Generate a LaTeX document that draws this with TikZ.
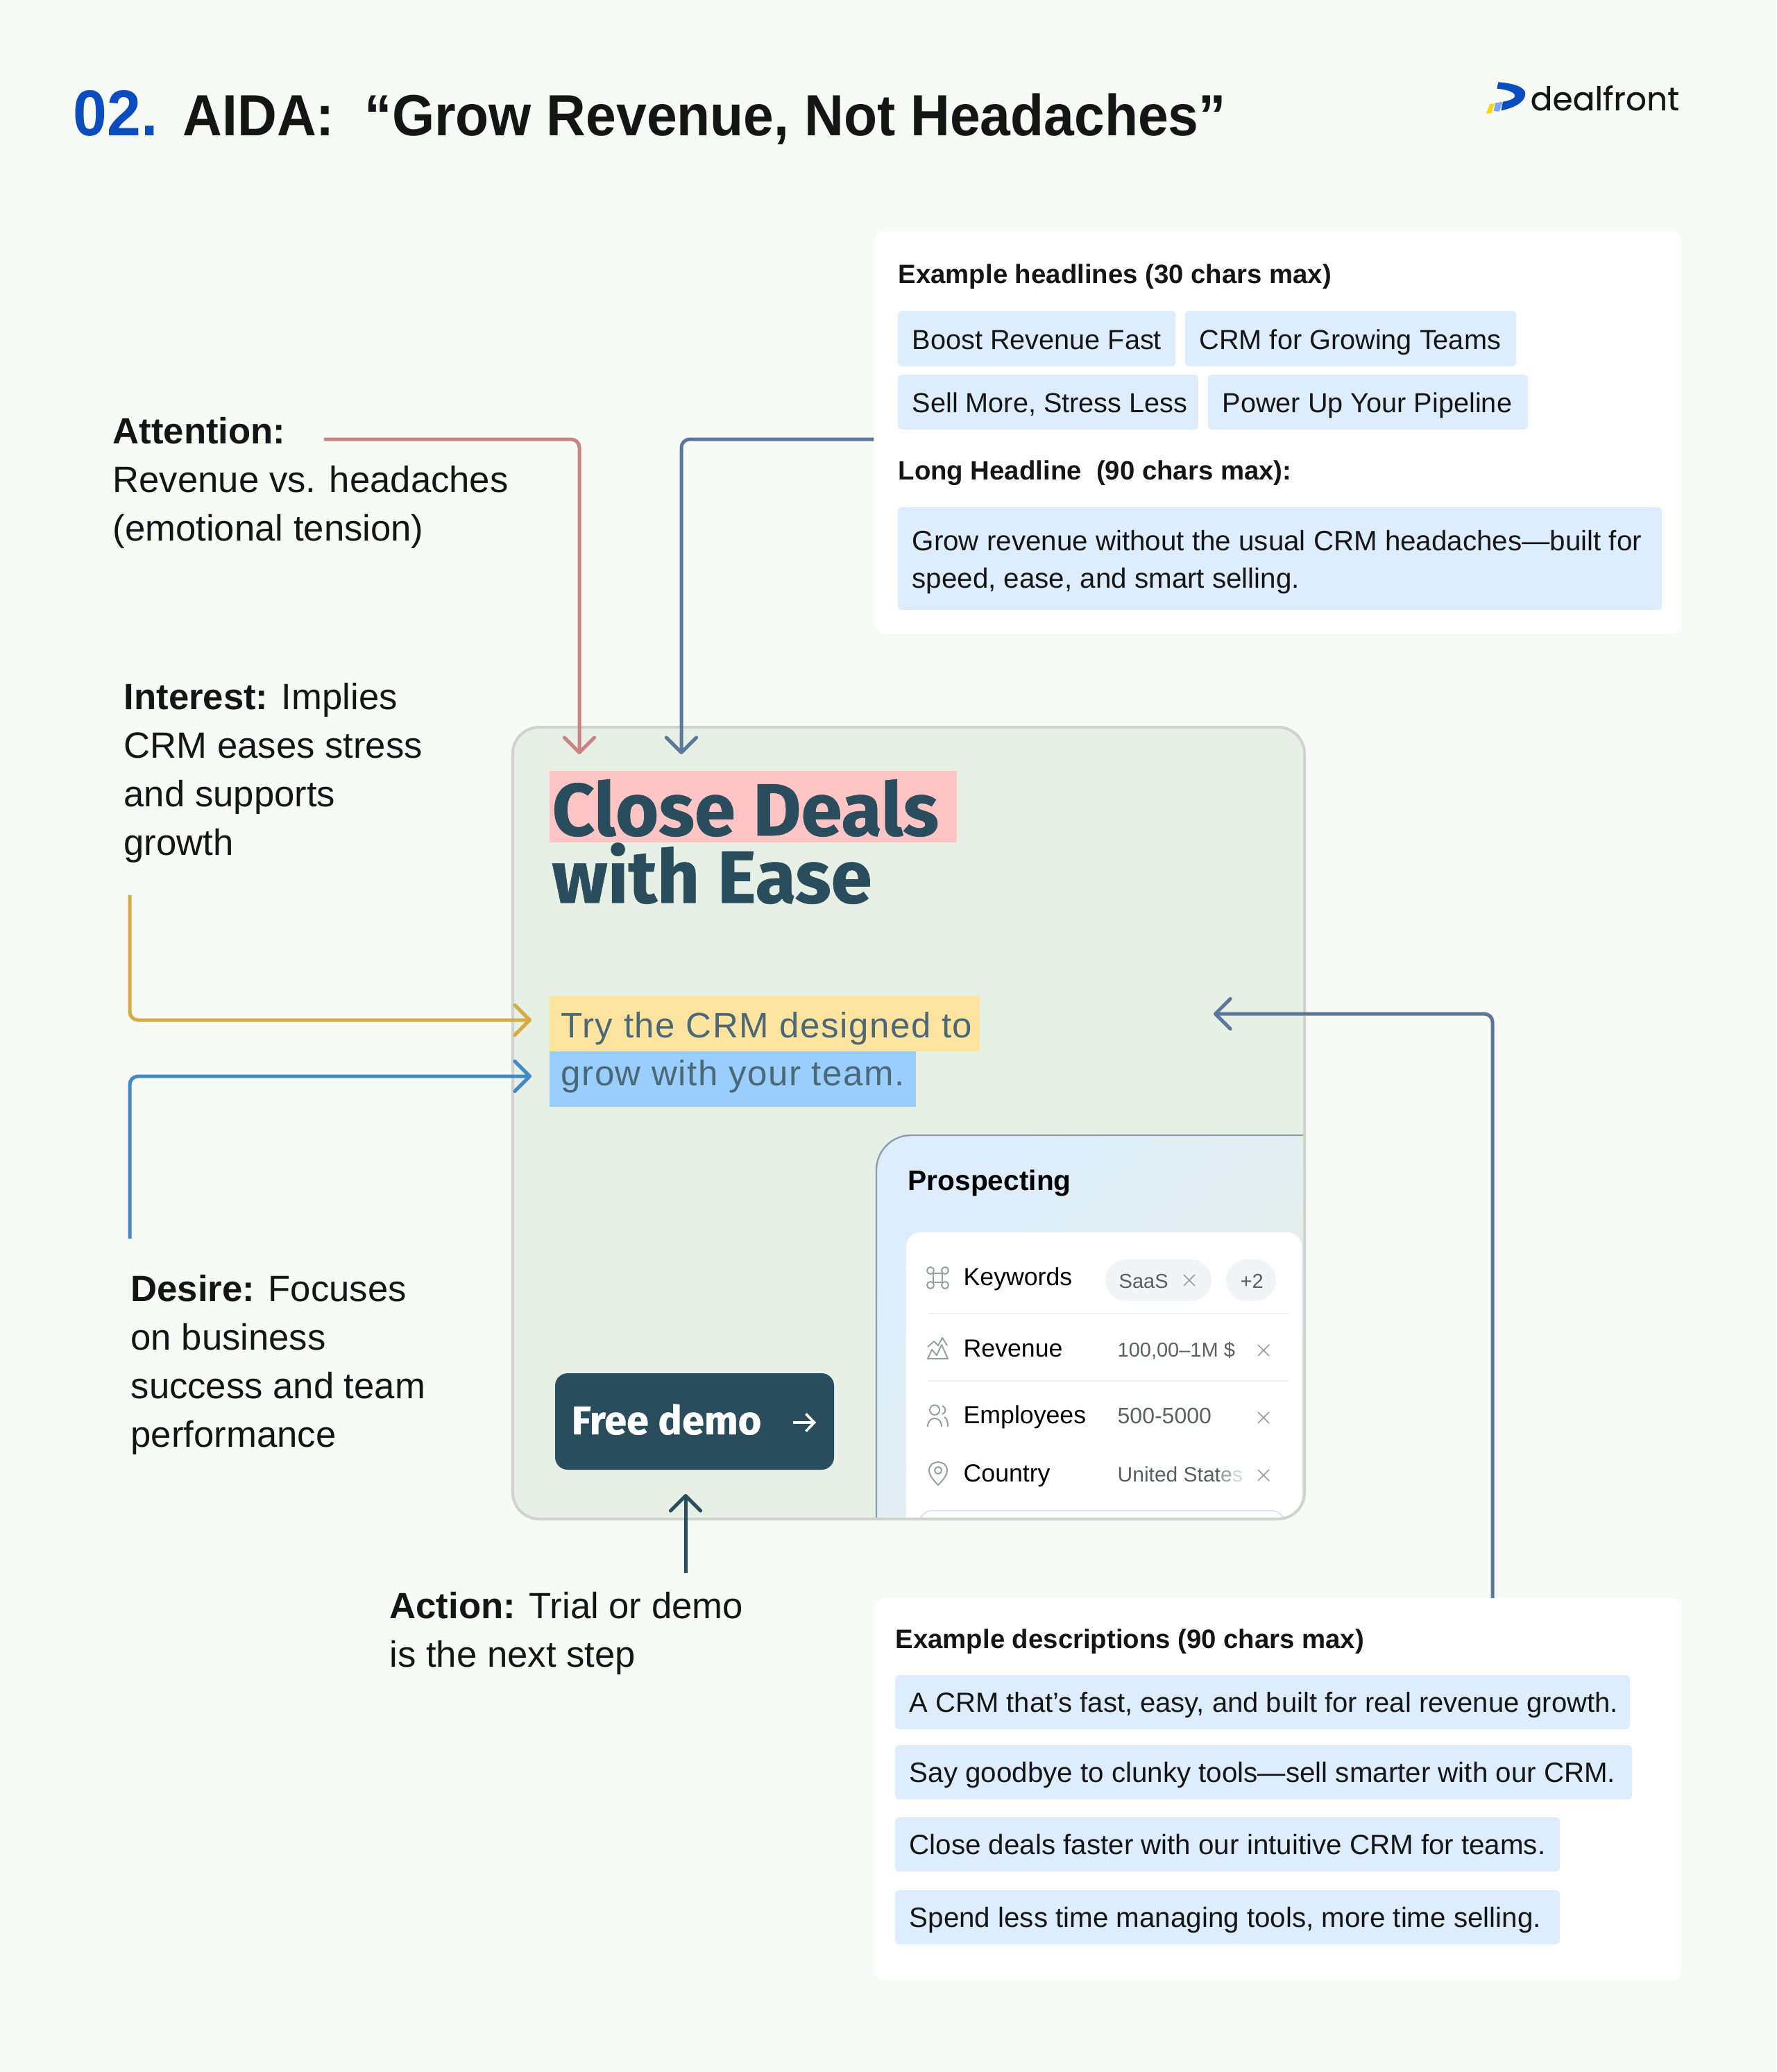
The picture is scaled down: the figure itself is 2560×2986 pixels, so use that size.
\documentclass[tikz,border=0pt]{standalone}
\usepackage{fontspec}
\usetikzlibrary{arrows.meta}
\setmainfont{Liberation Sans}
\newfontfamily\heavyfont[BoldFeatures={FakeBold=0.6}]{Fira Sans}
\newfontfamily\logofont[FakeBold=0.3]{Poppins}
\newfontfamily\subfont[LetterSpace=3]{Liberation Sans}
\newfontfamily\titlefont[BoldFeatures={FakeStretch=0.94}]{Liberation Sans}
\definecolor{pagebg}{HTML}{F8FAF6}
\definecolor{cardbg}{HTML}{E7F0E5}
\definecolor{cardedge}{HTML}{CFD2CF}
\definecolor{chipbg}{HTML}{DEEDFD}
\definecolor{ink}{HTML}{151515}
\definecolor{navy}{HTML}{2A4D5E}
\definecolor{titleblue}{HTML}{0B4DBE}
\definecolor{attnred}{HTML}{C98383}
\definecolor{slate}{HTML}{5B789B}
\definecolor{gold}{HTML}{D6AB45}
\definecolor{descblue}{HTML}{4488C7}
\definecolor{iconc}{HTML}{9A9E9F}
\definecolor{valc}{HTML}{5A5F62}
\definecolor{pinkhl}{HTML}{FFC4C4}
\definecolor{yellowhl}{HTML}{FFE4A0}
\definecolor{bluehl}{HTML}{9ACEFF}
\definecolor{pillbg}{HTML}{F1F5F5}
\tikzset{
  lab/.style={anchor=base west,inner sep=0pt,align=left,text=ink},
  biglab/.style={lab,font=\fontsize{15.8}{21}\selectfont},
  chiptxt/.style={lab,font=\fontsize{11.9}{16.2}\selectfont},
  widetxt/.style={lab,font=\fontsize{12.1}{16.2}\selectfont},
  headtxt/.style={lab,font=\fontsize{11.5}{15}\selectfont\bfseries},
  rowtxt/.style={lab,text=black,font=\fontsize{10.7}{13}\selectfont},
  valtxt/.style={lab,text=valc,font=\fontsize{8.7}{11}\selectfont},
  subtxt/.style={lab,text=navy!85!white,font=\fontsize{15.3}{15}\subfont},
  panel/.style={fill=white,rounded corners=4.5pt,inner sep=0pt},
  link/.style={line width=1.5pt,rounded corners=3.6pt,->},
  xmark/.style={draw=black!25!cardedge,line width=0.5pt},
  icon/.style={draw=iconc,line width=0.6pt},
  >={Straight Barb[length=6.5pt,width=13pt,line width=1.5pt,round]}
}
\begin{document}
\begin{tikzpicture}[x=0.3pt,y=-0.3pt]
\fill[pagebg] (0,0) rectangle (2560,2986);
% title and logo
\node[lab,text=titleblue,font=\fontsize{28}{28}\titlefont\bfseries] (num) at (105,196) {02.};
\node[lab,font=\fontsize{25.1}{28}\titlefont\bfseries] (title) at (263,196) {AIDA:\ \ “Grow Revenue, Not Headaches”};
\fill[titleblue] (2159.3,118.3) .. controls (2180,120) and (2198.3,125) .. (2198.3,135) .. controls (2198.3,148) and (2180,156) .. (2163.3,159.3) -- (2166,146.7) .. controls (2175,145) and (2183.3,142) .. (2183.3,138.3) .. controls (2183,132) and (2170,129) .. (2157.3,127.7) -- cycle;
\fill[bluehl!80!blue] (2155,148.3) -- (2165.7,146.7) -- (2160.7,160.7) -- (2152.7,160) -- cycle;
\fill[yellow!75!orange] (2147.3,150) -- (2154,149) -- (2149.3,163.3) -- (2142,163.3) -- cycle;
\node[lab,font=\fontsize{14.1}{16}\logofont] (logo) at (2205,159) {dealfront};
% upper panel
\node[panel,minimum width=348.9pt,minimum height=174pt] (headpanel) at (1841.5,623) {};
\node[headtxt] (headone) at (1294,408) {Example headlines (30 chars max)};
\foreach \xa/\xb/\ya/\yb/\tb/\lbl [count=\n] in {1294/1694/448/528/503/{Boost Revenue Fast},1708/2185/448/528/503/{CRM for Growing Teams},1294/1727/540/619/594/{Sell More, Stress Less},1741/2202/540/619/594/{Power Up Your Pipeline}}{
  \fill[chipbg,rounded corners=1.8pt] (\xa,\ya) rectangle (\xb,\yb);
  \node[chiptxt] (head\n) at (\xa+20,\tb) {\lbl};
}
\node[headtxt] (headtwo) at (1294,691) {Long Headline\ \ (90 chars max):};
\fill[chipbg,rounded corners=1.8pt] (1294,731) rectangle (2395,879);
\node[widetxt] (longhead) at (1314,847) {Grow revenue without the usual CRM headaches—built for\\speed, ease, and smart selling.};
% lower panel
\node[panel,minimum width=348.9pt,minimum height=165.3pt] (descpanel) at (1841.5,2578.5) {};
\node[headtxt] (descone) at (1290,2375) {Example descriptions (90 chars max)};
\foreach \xb/\ya/\lbl [count=\n] in {2349/2414/{\fontsize{12}{16}\selectfont A CRM that’s fast, easy, and built for real revenue growth.},2352/2515/{Say goodbye to clunky tools—sell smarter with our CRM.},2248/2619/{Close deals faster with our intuitive CRM for teams.},2248/2724/{Spend less time managing tools, more time selling.}}{
  \fill[chipbg,rounded corners=1.8pt] (1290,\ya) rectangle (\xb,\ya+78);
  \node[widetxt] (desc\n) at (1310,\ya+53) {\lbl};
}
% ad card
\fill[cardbg,rounded corners=11.4pt] (739,1048) rectangle (1880,2189);
\fill[pinkhl] (792,1111) rectangle (1379,1214);
\node[lab,text=navy,font=\fontsize{32}{29.1}\heavyfont\bfseries] (close) at (795,1301) {Close Deals\\with Ease};
\fill[yellowhl] (792,1435) rectangle (1412,1515);
\fill[bluehl] (792,1515) rectangle (1320,1595);
\node[subtxt] (subone) at (808,1495) {Try the CRM designed to};
\node[subtxt] (subtwo) at (808,1564) {grow with your team.};
\fill[navy,rounded corners=5.4pt] (800,1979) rectangle (1202,2118);
\node[lab,text=white,font=\fontsize{17.3}{18}\heavyfont\bfseries] (demo) at (823,2067) {Free demo};
\coordinate (demoa) at (1143,2050);
\coordinate (demob) at (1176,2050);
\draw[white,line width=1.1pt,-{Straight Barb[length=3.6pt,width=7.5pt,line width=1.1pt]}] (demoa) -- (demob);
% product panel
\begin{scope}
\clip[rounded corners=11.4pt] (739,1048) rectangle (1880,2189);
\shade[left color=chipbg,right color=cardbg,shading angle=45,rounded corners=15pt] (1263,1636) rectangle (1900,2220);
\draw[draw=slate!60!cardedge,line width=0.7pt,rounded corners=15pt] (1263,2200) -- (1263,1636) -- (1890,1636);
\fill[white,rounded corners=6pt] (1306,1776) rectangle (1876,2260);
\draw[draw=chipbg!70!cardedge,line width=0.6pt,rounded corners=6pt] (1324,2240) -- (1324,2177) -- (1852,2177) -- (1852,2240);
\end{scope}
\node[lab,text=black,font=\fontsize{12.2}{14}\selectfont\bfseries] (prosp) at (1308,1715) {Prospecting};
\node[rowtxt] (keyw) at (1388,1852) {Keywords};
\node[rowtxt] (reve) at (1388,1955) {Revenue};
\node[rowtxt] (empl) at (1388,2051) {Employees};
\node[rowtxt] (ctry) at (1388,2135) {Country};
\fill[pillbg,rounded corners=9pt] (1593,1815) rectangle (1746,1875);
\fill[pillbg,rounded corners=9pt] (1767,1815) rectangle (1839,1875);
\node[valtxt] (saas) at (1612,1856) {SaaS};
\node[valtxt] (more) at (1787,1856) {+2};
\node[valtxt] (reval) at (1610,1955) {100,00–1M \$};
\node[valtxt,font=\fontsize{9.6}{11}\selectfont] (emval) at (1610,2051) {500-5000};
\node[valtxt,font=\fontsize{9}{11}\selectfont] (coval) at (1610,2135) {United Stat\textcolor{valc!60!white}{e}\textcolor{valc!25!white}{s}};
\foreach \yy in {1893,1990}{\draw[black!6,line width=0.6pt] (1338,\yy) -- (1857,\yy);}
\foreach \cx/\cy in {1714/1845,1821/1946,1821/2043,1821/2126}{
  \draw[xmark] (\cx-8,\cy-8) -- (\cx+8,\cy+8) (\cx-8,\cy+8) -- (\cx+8,\cy-8);
}
% row icons
\draw[icon] (1345,1835) rectangle (1358,1848);
\foreach \cx/\cy in {1341/1831,1362/1831,1341/1852,1362/1852}{\draw[icon] (\cx,\cy) circle[radius=5];}
\draw[icon,line join=round] (1337,1958) -- (1343,1945) -- (1350,1953) -- (1357,1938) -- (1366,1958) -- cycle (1337,1941) -- (1346,1933) -- (1352,1939) -- (1358,1928) -- (1365,1939);
\draw[icon] (1347,2032) circle[radius=7];
\draw[icon] (1337,2056) .. controls (1337,2040) and (1357,2040) .. (1357,2056);
\draw[icon] (1358,2026) .. controls (1364,2028) and (1364,2036) .. (1358,2038) (1361,2042) .. controls (1365,2044) and (1366,2050) .. (1366,2056);
\draw[icon] (1352,2140) .. controls (1342,2130) and (1339,2124) .. (1339,2119) .. controls (1339,2103) and (1365,2103) .. (1365,2119) .. controls (1365,2124) and (1362,2130) .. (1352,2140) -- cycle;
\draw[icon] (1352,2119) circle[radius=5];
\draw[cardedge,line width=1.2pt,rounded corners=11.4pt] (739,1048) rectangle (1880,2189);
% labels
\node[biglab] (attn) at (162,779) {\textbf{Attention:}\\Revenue vs. headaches\\(emotional tension)};
\node[biglab] (intr) at (178,1232) {\textbf{Interest:} Implies\\CRM eases stress\\and supports\\growth};
\node[biglab] (desr) at (188,2085) {\textbf{Desire:} Focuses\\on business\\success and team\\performance};
\node[biglab] (actn) at (561,2402) {\textbf{Action:} Trial or demo\\is the next step};
% connectors
\coordinate (attnstart) at (467,633);
\coordinate (attntip) at (835,1087);
\coordinate (headtip) at (982,1087);
\coordinate (intrstart) at (187,1290);
\coordinate (intrtip) at (766,1470);
\coordinate (desrstart) at (187,1785);
\coordinate (desrtip) at (766,1551);
\coordinate (descstart) at (2151,2303);
\coordinate (desctip) at (1749,1461);
\coordinate (actnstart) at (988,2267);
\coordinate (actntip) at (988,2153);
\draw[link,attnred] (attnstart) -| (attntip);
\draw[link,slate] (headpanel.west |- attnstart) -| (headtip);
\draw[link,gold] (intrstart) |- (intrtip);
\draw[link,descblue] (desrstart) |- (desrtip);
\draw[link,slate] (descstart) |- (desctip);
\draw[link,navy] (actnstart) -- (actntip);
\end{tikzpicture}
\end{document}
